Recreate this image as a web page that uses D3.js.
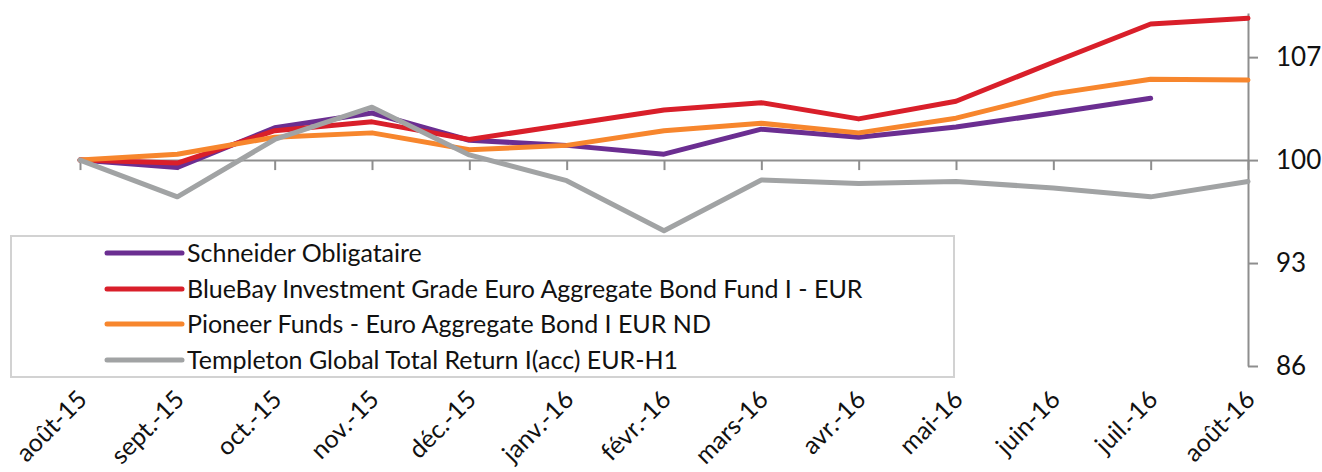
<!DOCTYPE html>
<html><head><meta charset="utf-8">
<script src="https://cdn.jsdelivr.net/npm/d3@7"></script>
<style>
html,body{margin:0;padding:0;background:#fff;}
svg{display:block;font-family:Lato,"Open Sans",sans-serif;}
</style></head>
<body>
<svg id="chart" width="1322" height="472"></svg>
<script>
const months = ["août-15","sept.-15","oct.-15","nov.-15","déc.-15","janv.-16","févr.-16","mars-16","avr.-16","mai-16","juin-16","juil.-16","août-16"];
const yTicks = [86, 93, 100, 107];
const seriesNames = ["Schneider Obligataire","BlueBay Investment Grade Euro Aggregate Bond Fund I - EUR","Pioneer Funds - Euro Aggregate Bond I EUR ND","Templeton Global Total Return I(acc) EUR-H1"];
const schneider = [100, 99.5, 102.2, 103.2, 101.35, 101.0, 100.4, 102.1, 101.55, 102.25, 103.2, 104.2, null];
const bluebay   = [100, 99.8, 102.0, 102.6, 101.4, 102.4, 103.4, 103.9, 102.8, 104.0, 106.65, 109.25, 109.65];
const pioneer   = [100, 100.4, 101.55, 101.85, 100.7, 101.0, 102.0, 102.5, 101.85, 102.85, 104.5, 105.5, 105.45];
const templeton = [100, 97.5, 101.4, 103.6, 100.35, 98.6, 95.2, 98.65, 98.4, 98.55, 98.1, 97.5, 98.55];
const colors = ["#6b2e91", "#d91f2a", "#f7862d", "#a1a3a4"];

const svg = d3.select("#chart");
const x = d3.scalePoint().domain(months).range([80, 1248]);
const y = d3.scaleLinear().domain([86, 110]).range([366, 13]);
const axisColor = "#8e8e8e";
const font = "Lato, 'Open Sans', sans-serif";

// x axis at 100
const gx = svg.append("g").attr("transform", `translate(0,${y(100)})`)
  .call(d3.axisBottom(x).tickSize(10).tickSizeOuter(0))
  .attr("font-family", font);
gx.select(".domain").attr("stroke", axisColor).attr("stroke-width", 2);
gx.selectAll(".tick line").attr("stroke", axisColor).attr("stroke-width", 2);
gx.selectAll(".tick text")
  .attr("fill", "#111").attr("font-size", 25)
  .attr("text-anchor", "end").attr("dy", null).attr("y", null)
  .attr("transform", "translate(8,241) rotate(-45)");

// y axis right
const gy = svg.append("g").attr("transform", `translate(${x(months[months.length-1])},0)`)
  .call(d3.axisRight(y).tickValues(yTicks).tickSize(10).tickPadding(18).tickSizeOuter(0))
  .attr("font-family", font);
gy.select(".domain").attr("stroke", axisColor).attr("stroke-width", 2);
gy.selectAll(".tick line").attr("stroke", axisColor).attr("stroke-width", 2);
gy.selectAll(".tick text").attr("fill", "#111").attr("font-size", 26);

// lines
const data = [schneider, bluebay, pioneer, templeton];
const line = d3.line().defined(d => d != null).x((d, i) => x(months[i])).y(d => y(d));
data.forEach((s, k) => {
  svg.append("path").attr("d", line(s)).attr("fill", "none")
    .attr("stroke", colors[k]).attr("stroke-width", 5)
    .attr("stroke-linejoin", "round").attr("stroke-linecap", "round");
});

// legend
const lg = svg.append("g").attr("font-family", font);
lg.append("rect").attr("x", 11).attr("y", 236).attr("width", 943).attr("height", 141)
  .attr("fill", "#fff").attr("stroke", "#d2d2d2").attr("stroke-width", 2);
const rowY = [253, 289, 324, 360];
seriesNames.forEach((n, k) => {
  lg.append("line").attr("x1", 107).attr("x2", 182).attr("y1", rowY[k]).attr("y2", rowY[k])
    .attr("stroke", colors[k]).attr("stroke-width", 5).attr("stroke-linecap", "round");
  lg.append("text").attr("x", 187).attr("y", rowY[k]).attr("dy", "0.35em")
    .attr("font-size", 25).attr("fill", "#111").text(n);
});
</script>
</body></html>
